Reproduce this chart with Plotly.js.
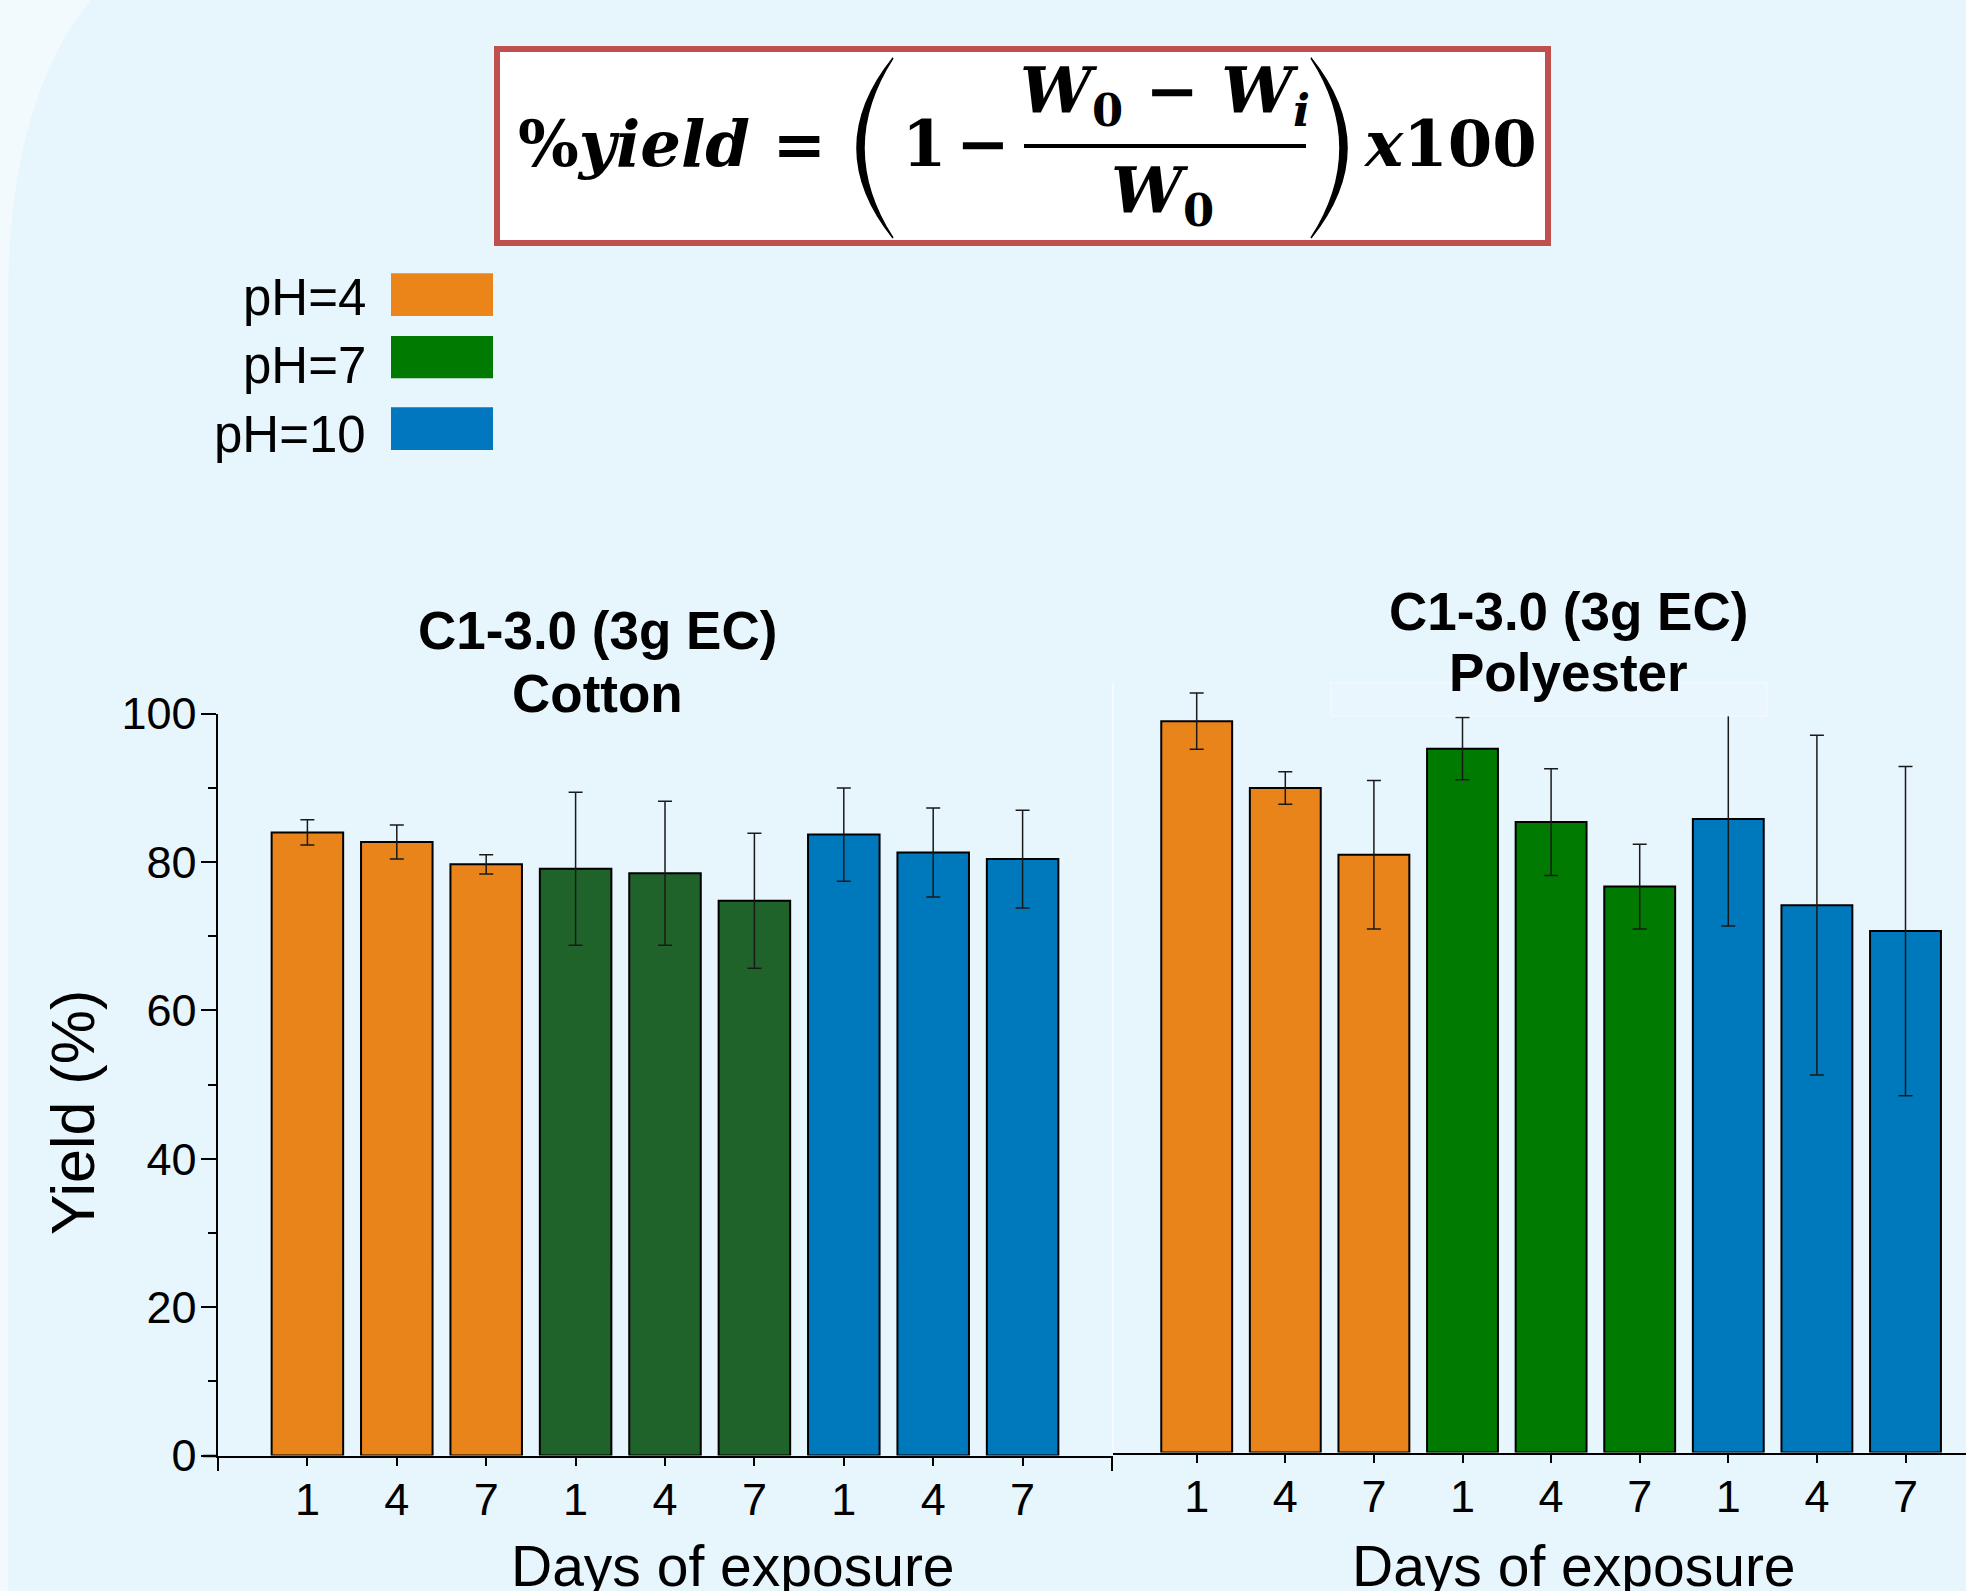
<!DOCTYPE html>
<html><head><meta charset="utf-8">
<script src="https://cdn.plot.ly/plotly-3.0.1.min.js"></script>
<style>html,body{margin:0;padding:0;background:#F2FAFE;} #chart{width:1966px;height:1591px;}</style>
</head><body><div id="chart"></div>
<script>
// ---------- data ----------
const days = ['1', '4', '7', '1', '4', '7', '1', '4', '7'];
const phLabels = ['pH=4', 'pH=7', 'pH=10'];
const phGroup = [0, 0, 0, 1, 1, 1, 2, 2, 2];
const cottonYield = [84.0, 82.7, 79.7, 79.1, 78.5, 74.8, 83.7, 81.3, 80.4];
const cottonErr   = [1.7, 2.3, 1.3, 10.3, 9.7, 9.1, 6.3, 6.0, 6.6];
const polyYield   = [98.6, 89.6, 80.6, 94.9, 85.0, 76.3, 85.4, 73.8, 70.3];
const polyErr     = [3.8, 2.2, 10.0, 4.2, 7.2, 5.7, 14.4, 22.9, 22.2];
const panelTitles = [['C1-3.0 (3g EC)', 'Cotton'], ['C1-3.0 (3g EC)', 'Polyester']];
const xTitle = 'Days of exposure';
const yTitle = 'Yield (%)';

// ---------- styles ----------
const cottonColors = ['#E9841A', '#1F632B', '#0078BC'];
const polyColors   = ['#E9841A', '#007A00', '#0078BC'];
const legendColors = ['#EB8519', '#007A00', '#0077BE'];
const W = 1966, H = 1591;
const px = x => x / W;
const py = y => 1 - y / H;
const SANS = 'Liberation Sans, Arial, sans-serif';
const SERIF = 'DejaVu Serif, serif';
const idx = days.map((d, i) => i);

const errStyle = {type: 'data', visible: true, color: '#1a1a1a', thickness: 1.5, width: 7};

const traces = [
  {type: 'bar', x: idx, y: cottonYield, xaxis: 'x', yaxis: 'y', width: 0.8,
   marker: {color: phGroup.map(g => cottonColors[g]), line: {color: '#000', width: 2}},
   error_y: Object.assign({array: cottonErr}, errStyle), hoverinfo: 'y', showlegend: false},
  {type: 'bar', x: idx, y: polyYield, xaxis: 'x2', yaxis: 'y2', width: 0.8,
   marker: {color: phGroup.map(g => polyColors[g]), line: {color: '#000', width: 2}},
   error_y: Object.assign({array: polyErr}, errStyle), hoverinfo: 'y', showlegend: false}
];

const tickFont = {family: SANS, size: 45, color: '#000'};
const unit = (1455.5 - 713.7) / 100;

const layout = {
  width: W, height: H,
  margin: {l: 0, r: 0, t: 0, b: 0},
  paper_bgcolor: '#F2FAFE', plot_bgcolor: 'rgba(0,0,0,0)',
  showlegend: false, bargap: 0.2,
  xaxis: {domain: [px(218), px(1112)], range: [-1, 9], anchor: 'y',
    showline: true, linecolor: '#000', linewidth: 2.5, ticks: 'outside', ticklen: 8, tickwidth: 2, tickcolor: '#000',
    tickvals: idx, ticktext: days, tickfont: tickFont, showgrid: false, zeroline: false, ticklabelstandoff: -5},
  yaxis: {domain: [py(1455.5), py(713.7)], range: [0, 100], anchor: 'x',
    showline: true, linecolor: '#000', linewidth: 2.5, ticks: 'outside', ticklen: 15, tickwidth: 2, tickcolor: '#000',
    dtick: 20, tick0: 0, tickfont: tickFont, showgrid: false, zeroline: false, ticklabelstandoff: -5,
    minor: {dtick: 10, ticks: 'outside', ticklen: 8, tickwidth: 2, tickcolor: '#000', showgrid: false}},
  xaxis2: {domain: [px(1113), 1], range: [-(1196.7 - 1113) / 88.6, -(1196.7 - 1113) / 88.6 + 853 / 88.6], anchor: 'y2',
    showline: true, linecolor: '#000', linewidth: 2.5, ticks: 'outside', ticklen: 8, tickwidth: 2, tickcolor: '#000',
    tickvals: idx, ticktext: days, tickfont: tickFont, showgrid: false, zeroline: false, ticklabelstandoff: -5},
  yaxis2: {domain: [py(1452.6), py(683)], range: [0, (1452.6 - 683) / unit], anchor: 'x2', visible: false},
  shapes: [], annotations: []
};

// background rounded panel
const bgPath = `M ${px(8)} ${py(1600)} L ${px(8)} ${py(300)} Q ${px(8)} ${py(60)} ${px(130)} ${py(-40)} L ${px(1980)} ${py(-40)} L ${px(1980)} ${py(1600)} Z`;
layout.shapes.push({type: 'path', xref: 'paper', yref: 'paper', path: bgPath, fillcolor: '#E7F5FD', line: {width: 0}, layer: 'below'});

// formula box
layout.shapes.push({type: 'rect', xref: 'paper', yref: 'paper', x0: px(497), x1: px(1548), y0: py(243), y1: py(49),
  fillcolor: '#FFFFFF', line: {color: '#C0504D', width: 6}, layer: 'above'});
// parentheses
function paren(xTop, xOut, xIn, yT, yB) {
  const ym = (yT + yB) / 2;
  const cOut = 2 * xOut - xTop, cIn = 2 * xIn - xTop;
  return `M ${px(xTop)} ${py(yT)} Q ${px(cOut)} ${py(ym)} ${px(xTop)} ${py(yB)} Q ${px(cIn)} ${py(ym)} ${px(xTop)} ${py(yT)} Z`;
}
layout.shapes.push({type: 'path', xref: 'paper', yref: 'paper', path: paren(893, 857, 864, 58, 238), fillcolor: '#000', line: {color: '#000', width: 1.5}, layer: 'above'});
layout.shapes.push({type: 'path', xref: 'paper', yref: 'paper', path: paren(1311, 1347, 1340, 58, 238), fillcolor: '#000', line: {color: '#000', width: 1.5}, layer: 'above'});
// fraction bar
layout.shapes.push({type: 'line', xref: 'paper', yref: 'paper', x0: px(1024), x1: px(1306), y0: py(146), y1: py(146), line: {color: '#000', width: 4}, layer: 'above'});

function ann(text, x, y, size, opts) {
  layout.annotations.push(Object.assign({text: text, x: px(x), y: py(y), xref: 'paper', yref: 'paper',
    showarrow: false, xanchor: 'center', yanchor: 'middle', font: {family: SANS, size: size, color: '#000'}}, opts || {}));
}
const fF = s => ({family: SERIF, size: s, color: '#000'});
ann('<b>%<i>yield</i> =</b>', 516, 143.5, 64, {xanchor: 'left', font: fF(64)});
ann('<b>1</b>', 900, 143.5, 64, {xanchor: 'left', font: fF(64)});
ann('<b>−</b>', 983, 143.5, 64, {font: fF(64)});
ann('<b><i>W</i><sub>0</sub> − <i>W<sub>i</sub></i></b>', 1165, 95, 64, {font: fF(64)});
ann('<b><i>W</i><sub>0</sub></b>', 1162, 195, 64, {font: fF(64)});
ann('<b><i>x</i>100</b>', 1361, 143.5, 64, {xanchor: 'left', font: fF(64)});

// legend
const legY = [[273.3, 316], [336, 378.3], [407.3, 450]];
const legTextY = [297, 366, 435];
phLabels.forEach((lab, i) => {
  layout.shapes.push({type: 'rect', xref: 'paper', yref: 'paper', x0: px(391), x1: px(493), y0: py(legY[i][1]), y1: py(legY[i][0]),
    fillcolor: legendColors[i], line: {width: 0}});
  ann(lab, 368, legTextY[i], 51, {xanchor: 'right'});
});

// panel titles
ann('<b>' + panelTitles[0][0] + '</b>', 597, 630, 53);
ann('<b>' + panelTitles[0][1] + '</b>', 597, 693, 53);
// faint label box behind right title (hides the top of one error bar, as in the original)
layout.shapes.push({type: 'rect', xref: 'paper', yref: 'paper', x0: px(1331), x1: px(1767), y0: py(716), y1: py(683),
  fillcolor: '#E9F6FD', line: {color: 'rgba(255,255,255,0.6)', width: 1}, layer: 'above'});
ann('<b>' + panelTitles[1][0] + '</b>', 1568.5, 611.5, 53);
ann('<b>' + panelTitles[1][1] + '</b>', 1568.5, 673, 53);

// faint separator line
layout.shapes.push({type: 'line', xref: 'paper', yref: 'paper', x0: px(1113), x1: px(1113), y0: py(683), y1: py(1452), line: {color: 'rgba(255,255,255,0.7)', width: 1.5}});
// axis end ticks / extension
layout.shapes.push({type: 'line', xref: 'paper', yref: 'paper', x0: px(203), x1: px(218), y0: py(1456), y1: py(1456), line: {color: '#000', width: 2.5}});
layout.shapes.push({type: 'line', xref: 'paper', yref: 'paper', x0: px(218), x1: px(218), y0: py(1456), y1: py(1471), line: {color: '#000', width: 2}});
layout.shapes.push({type: 'line', xref: 'paper', yref: 'paper', x0: px(1112), x1: px(1112), y0: py(1456), y1: py(1471), line: {color: '#000', width: 2}});

// axis titles
ann(xTitle, 733, 1566, 57);
ann(xTitle, 1574, 1566, 57);
ann(yTitle, 73, 1113, 61, {textangle: -90});

Plotly.newPlot('chart', traces, layout, {staticPlot: true, displayModeBar: false});
</script>
</body></html>
